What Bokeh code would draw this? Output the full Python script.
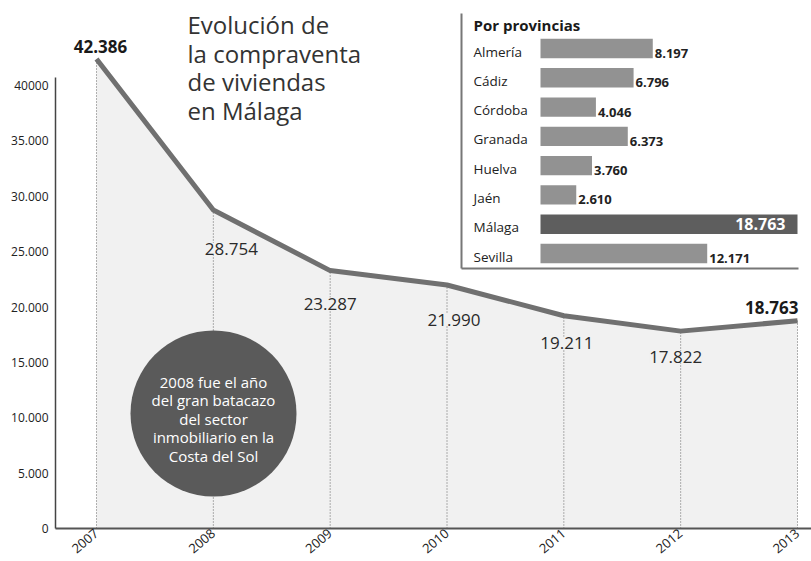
from bokeh.plotting import figure
from bokeh.models import Range1d, FixedTicker
from bokeh.core.properties import value
from bokeh.embed import file_html
from bokeh.resources import INLINE

# ---------------- data ----------------
years = [2007, 2008, 2009, 2010, 2011, 2012, 2013]
sales = [42386, 28754, 23287, 21990, 19211, 17822, 18763]
y_ticks = [0, 5000, 10000, 15000, 20000, 25000, 30000, 35000, 40000]
y_tick_labels = ["0", "5.000", "10.000", "15.000", "20.000", "25.000", "30.000", "35.000", "40000"]
provinces = ["Almería", "Cádiz", "Córdoba", "Granada", "Huelva", "Jaén", "Málaga", "Sevilla"]
prov_sales = [8197, 6796, 4046, 6373, 3760, 2610, 18763, 12171]
highlight = "Málaga"
title_lines = ["Evolución de", "la compraventa", "de viviendas", "en Málaga"]
note_lines = ["2008 fue el año", "del gran batacazo", "del sector", "inmobiliario en la", "Costa del Sol"]
inset_title = "Por provincias"


def fmt(v):
    return f"{v:,}".replace(",", ".")


FONT = "Open Sans"

# ---------------- layout (canvas px) ----------------
W, H = 811, 561
FL, FR, FT, FB = 55, 811, 0, 528          # frame edges
X_FIRST_PX, X_LAST_PX = 96, 797           # first / last year positions
Y0_PX, Y40K_PX = 528, 85                  # 0 and 40000 positions
ppx = (X_LAST_PX - X_FIRST_PX) / (years[-1] - years[0])
ppy = (Y0_PX - Y40K_PX) / 40000.0
x_start = years[0] - (X_FIRST_PX - FL) / ppx
x_end = years[-1] + (FR - X_LAST_PX) / ppx
y_end = (Y0_PX - FT) / ppy


def px2x(px):  # canvas px -> main x
    return x_start + (px - FL) / ppx


def py2y(py):  # canvas px -> main y
    return (FB - py) / ppy


# inset scales
BAR0_PX, BARMAX_PX = 540, 797
bs = (BARMAX_PX - BAR0_PX) / max(prov_sales)
inx_start = -(BAR0_PX - FL) / bs
inx_end = inx_start + (FR - FL) / bs
ROW0_PX, ROW7_PX = 48, 253
rs = (ROW7_PX - ROW0_PX) / (len(provinces) - 1)
iny_top = -(ROW0_PX - FT) / rs
iny_bot = (FB - ROW0_PX) / rs

p = figure(width=W, height=H, output_backend="svg", toolbar_location=None,
           x_range=Range1d(x_start, x_end), y_range=Range1d(0, y_end),
           min_border_left=FL, min_border_right=W - FR, min_border_top=FT,
           min_border_bottom=H - FB)
p.extra_x_ranges = {"inx": Range1d(inx_start, inx_end)}
p.extra_y_ranges = {"iny": Range1d(iny_bot, iny_top)}
p.outline_line_color = None
p.grid.visible = False
p.background_fill_color = "white"
p.border_fill_color = "white"

# ---------------- main chart ----------------
AREA = "#f1f1f1"
p.varea(x=years, y1=[0] * len(years), y2=sales, fill_color=AREA)
p.segment(x0=years, y0=[0] * len(years), x1=years, y1=sales,
          line_color="#666666", line_width=1, line_dash="1 2")
p.line(years, sales, line_color="#707070", line_width=5, line_join="round")

mid = list(range(1, len(years) - 1))
lab_xoff = [18, 0, 7, 3, -5]
lab_yoff = [39, 33, 35, 27, 26]
p.text(x=[years[i] for i in mid], y=[sales[i] for i in mid],
       text=[fmt(sales[i]) for i in mid], x_offset=lab_xoff, y_offset=lab_yoff,
       text_align="center", text_baseline="middle", text_font=value(FONT),
       text_font_size="17px", text_color="#2a2a2a",
       background_fill_color=AREA)
p.text(x=[years[0]], y=[sales[0]], text=[fmt(sales[0])], x_offset=4, y_offset=-13,
       text_align="center", text_baseline="middle", text_font=value(FONT),
       text_font_size="17px", text_font_style="bold", text_color="#1a1a1a")
p.text(x=[years[-1]], y=[sales[-1]], text=[fmt(sales[-1])], x_offset=1, y_offset=-13,
       text_align="right", text_baseline="middle", text_font=value(FONT),
       text_font_size="17px", text_font_style="bold", text_color="#1a1a1a")

# title
p.text(x=[px2x(187)] * len(title_lines), y=[py2y(24)] * len(title_lines),
       text=title_lines, y_offset=[i * 28.5 for i in range(len(title_lines))],
       text_align="left", text_baseline="middle", text_font=value(FONT),
       text_font_size="24px", text_color="#333333")

# note circle
p.scatter(x=[px2x(213)], y=[py2y(413)], size=166, marker="circle",
          fill_color="#5a5a5a", line_color=None)
p.text(x=[px2x(213)] * len(note_lines), y=[py2y(418)] * len(note_lines),
       text=note_lines, y_offset=[(i - 2) * 18.5 for i in range(len(note_lines))],
       text_align="center", text_baseline="middle", text_font=value(FONT),
       text_font_size="15px", text_color="white")

# axes
ya = p.yaxis[0]
ya.ticker = FixedTicker(ticks=y_ticks)
ya.major_label_overrides = {t: l for t, l in zip(y_ticks, y_tick_labels)}
ya.bounds = (0, 40700)
ya.axis_line_color = "#444444"
ya.axis_line_width = 1.5
ya.major_tick_out = 0
ya.major_tick_in = 0
ya.minor_tick_out = 0
ya.minor_tick_in = 0
ya.major_label_standoff = 7
ya.major_label_text_font = FONT
ya.major_label_text_font_size = "12px"
ya.major_label_text_color = "#222222"

xa = p.xaxis[0]
xa.ticker = FixedTicker(ticks=years)
xa.axis_line_color = "#555555"
xa.axis_line_width = 2
xa.major_tick_out = 0
xa.major_tick_in = 0
xa.minor_tick_out = 0
xa.minor_tick_in = 0
xa.major_label_orientation = 0.7
xa.major_label_standoff = 3
xa.major_label_text_font = FONT
xa.major_label_text_font_size = "13px"
xa.major_label_text_color = "#222222"

# ---------------- inset ----------------
idx = list(range(len(provinces)))
colors = ["#5e5e5e" if c == highlight else "#929292" for c in provinces]
p.quad(left=[px2x(462)], right=[px2x(811)], bottom=[py2y(267)], top=[py2y(10)],
       fill_color="white", line_color=None)
p.segment(x0=[px2x(461), px2x(461)], y0=[py2y(13), py2y(268)],
          x1=[px2x(461), px2x(798)], y1=[py2y(268), py2y(268)],
          line_color="#777777", line_width=2)
p.hbar(y=idx, left=0, right=prov_sales, height=0.66, fill_color=colors,
       line_color=None, x_range_name="inx", y_range_name="iny")
p.text(x=[0] * len(idx), y=idx, text=provinces, x_offset=-67, y_offset=3,
       text_align="left", text_baseline="middle", text_font=value(FONT),
       text_font_size="13.5px", text_color="#222222",
       x_range_name="inx", y_range_name="iny")
others = [i for i in idx if provinces[i] != highlight]
hi = [i for i in idx if provinces[i] == highlight]
p.text(x=[prov_sales[i] for i in others], y=others,
       text=[fmt(prov_sales[i]) for i in others], x_offset=2, y_offset=5,
       text_align="left", text_baseline="middle", text_font=value(FONT),
       text_font_size="13px", text_font_style="bold", text_color="#222222",
       x_range_name="inx", y_range_name="iny")
p.text(x=[prov_sales[i] for i in hi], y=hi,
       text=[fmt(prov_sales[i]) for i in hi], x_offset=-12, y_offset=0,
       text_align="right", text_baseline="middle", text_font=value(FONT),
       text_font_size="16px", text_font_style="bold", text_color="white",
       x_range_name="inx", y_range_name="iny")
p.text(x=[0], y=[0], text=[inset_title], x_offset=-67, y_offset=-24,
       text_align="left", text_baseline="middle", text_font=value(FONT),
       text_font_size="15px", text_font_style="bold", text_color="#1a1a1a",
       x_range_name="inx", y_range_name="iny")

open("out.html", "w").write(file_html(p, INLINE))
